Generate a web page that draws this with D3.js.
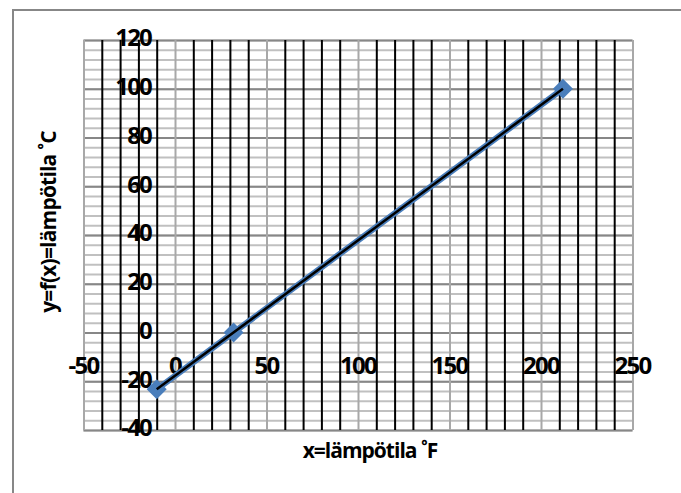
<!DOCTYPE html>
<html>
<head>
<meta charset="utf-8">
<script src="https://cdn.jsdelivr.net/npm/d3@7"></script>
<style>
body { margin: 0; background: #fff; }
text { font-family: "Open Sans", "Noto Sans", sans-serif; font-weight: 700; fill: #000; }
</style>
</head>
<body>
<script>
// data
var fahrenheit = [-10, 32, 212];
var celsius = [-23.3, 0, 100];
var xTicks = [-50, 0, 50, 100, 150, 200, 250];
var yTicks = [-40, -20, 0, 20, 40, 60, 80, 100, 120];
var xTitle = "x=lämpötila ˚F";
var yTitle = "y=f(x)=lämpötila ˚C";

var points = fahrenheit.map(function(f, i){ return {x: f, y: celsius[i]}; });

var loadGrid = function(svg, xScale, yScale){
    var left = xScale.range()[0], right = xScale.range()[1];
    var top = yScale.range()[1], bottom = yScale.range()[0];

    // horizontal minor lines every 4
    svg.append('g')
        .attr('transform', 'translate(' + left + ',0)')
        .call(d3.axisLeft(yScale).tickValues(d3.range(-40, 121, 4)).tickSize(-(right - left)).tickFormat(''))
        .call(function(g){
            g.select('.domain').remove();
            g.selectAll('line').attr('stroke', '#c0c0c0').attr('stroke-width', 2);
        });
    // horizontal major lines every 20
    svg.append('g')
        .attr('transform', 'translate(' + left + ',0)')
        .call(d3.axisLeft(yScale).tickValues(yTicks).tickSize(-(right - left)).tickFormat(''))
        .call(function(g){
            g.select('.domain').remove();
            g.selectAll('line').attr('stroke', '#878787').attr('stroke-width', 2);
        });
    // vertical minor lines every 10 (black)
    svg.append('g')
        .attr('transform', 'translate(0,' + bottom + ')')
        .call(d3.axisBottom(xScale).tickValues(d3.range(-40, 250, 10).filter(function(v){ return v % 50 != 0; }))
            .tickSize(-(bottom - top)).tickFormat(''))
        .call(function(g){
            g.select('.domain').remove();
            g.selectAll('line').attr('stroke', '#000').attr('stroke-width', 2);
        });
    // vertical major lines every 50 (gray)
    svg.append('g')
        .attr('transform', 'translate(0,' + bottom + ')')
        .call(d3.axisBottom(xScale).tickValues(xTicks).tickSize(-(bottom - top)).tickFormat(''))
        .call(function(g){
            g.select('.domain').remove();
            g.selectAll('line').attr('stroke', '#a8a8a8').attr('stroke-width', 2);
        });
}

var loadLabels = function(svg, xScale, yScale){
    svg.append('g').selectAll('text').data(xTicks).enter().append('text')
        .attr('x', function(d){ return xScale(d); })
        .attr('y', yScale(0) + 35)
        .attr('text-anchor', 'middle')
        .attr('dominant-baseline', 'middle')
        .attr('font-size', 24)
        .attr('letter-spacing', -1.8)
        .text(function(d){ return d; });

    svg.append('g').selectAll('text').data(yTicks).enter().append('text')
        .attr('x', xScale(0) - 24)
        .attr('y', function(d){ return yScale(d); })
        .attr('text-anchor', 'end')
        .attr('dominant-baseline', 'middle')
        .attr('font-size', 24)
        .attr('letter-spacing', -1.8)
        .text(function(d){ return d; });

    svg.append('text')
        .attr('x', 370).attr('y', 452)
        .attr('text-anchor', 'middle')
        .attr('dominant-baseline', 'middle')
        .attr('font-size', 21)
        .attr('letter-spacing', -1)
        .text(xTitle);

    svg.append('text')
        .attr('transform', 'translate(50,222) rotate(-90)')
        .attr('text-anchor', 'middle')
        .attr('dominant-baseline', 'middle')
        .attr('font-size', 21)
        .attr('letter-spacing', -0.8)
        .text(yTitle);
}

var loadSeries = function(svg, xScale, yScale){
    var line = d3.line()
        .x(function(d){ return xScale(d.x); })
        .y(function(d){ return yScale(d.y); });

    svg.append('path').datum(points)
        .attr('fill', 'none')
        .attr('stroke', '#4a7ebb')
        .attr('stroke-width', 6)
        .attr('d', line);

    svg.append('g').selectAll('path').data(points).enter().append('path')
        .attr('d', d3.symbol().type(d3.symbolSquare).size(200))
        .attr('fill', '#4a7ebb')
        .attr('transform', function(d){ return 'translate(' + xScale(d.x) + ',' + yScale(d.y) + ') rotate(45)'; });

    // linear trendline
    var fit = d3.extent(points, function(d){ return d.x; });
    var mx = d3.mean(points, function(d){ return d.x; }), my = d3.mean(points, function(d){ return d.y; });
    var slope = d3.sum(points, function(d){ return (d.x - mx) * (d.y - my); }) / d3.sum(points, function(d){ return (d.x - mx) * (d.x - mx); });
    var trend = fit.map(function(x){ return {x: x, y: my + slope * (x - mx)}; });
    svg.append('path').datum(trend)
        .attr('fill', 'none')
        .attr('stroke', '#000')
        .attr('stroke-width', 2.5)
        .attr('d', line);
}

var loadGraph = function(){
    var xScale = d3.scaleLinear().domain([-50, 250]).range([83.5, 632.5]);
    var yScale = d3.scaleLinear().domain([-40, 120]).range([430, 40]);
    var svg = d3.select('body').append('svg')
        .attr('width', 681)
        .attr('height', 493);
    svg.append('rect')
        .attr('x', 13).attr('y', 10)
        .attr('width', 720).attr('height', 520)
        .attr('fill', '#fff')
        .attr('stroke', '#878787')
        .attr('stroke-width', 2);
    loadGrid(svg, xScale, yScale);
    loadLabels(svg, xScale, yScale);
    loadSeries(svg, xScale, yScale);
}

window.onload = loadGraph;
</script>
</body>
</html>
